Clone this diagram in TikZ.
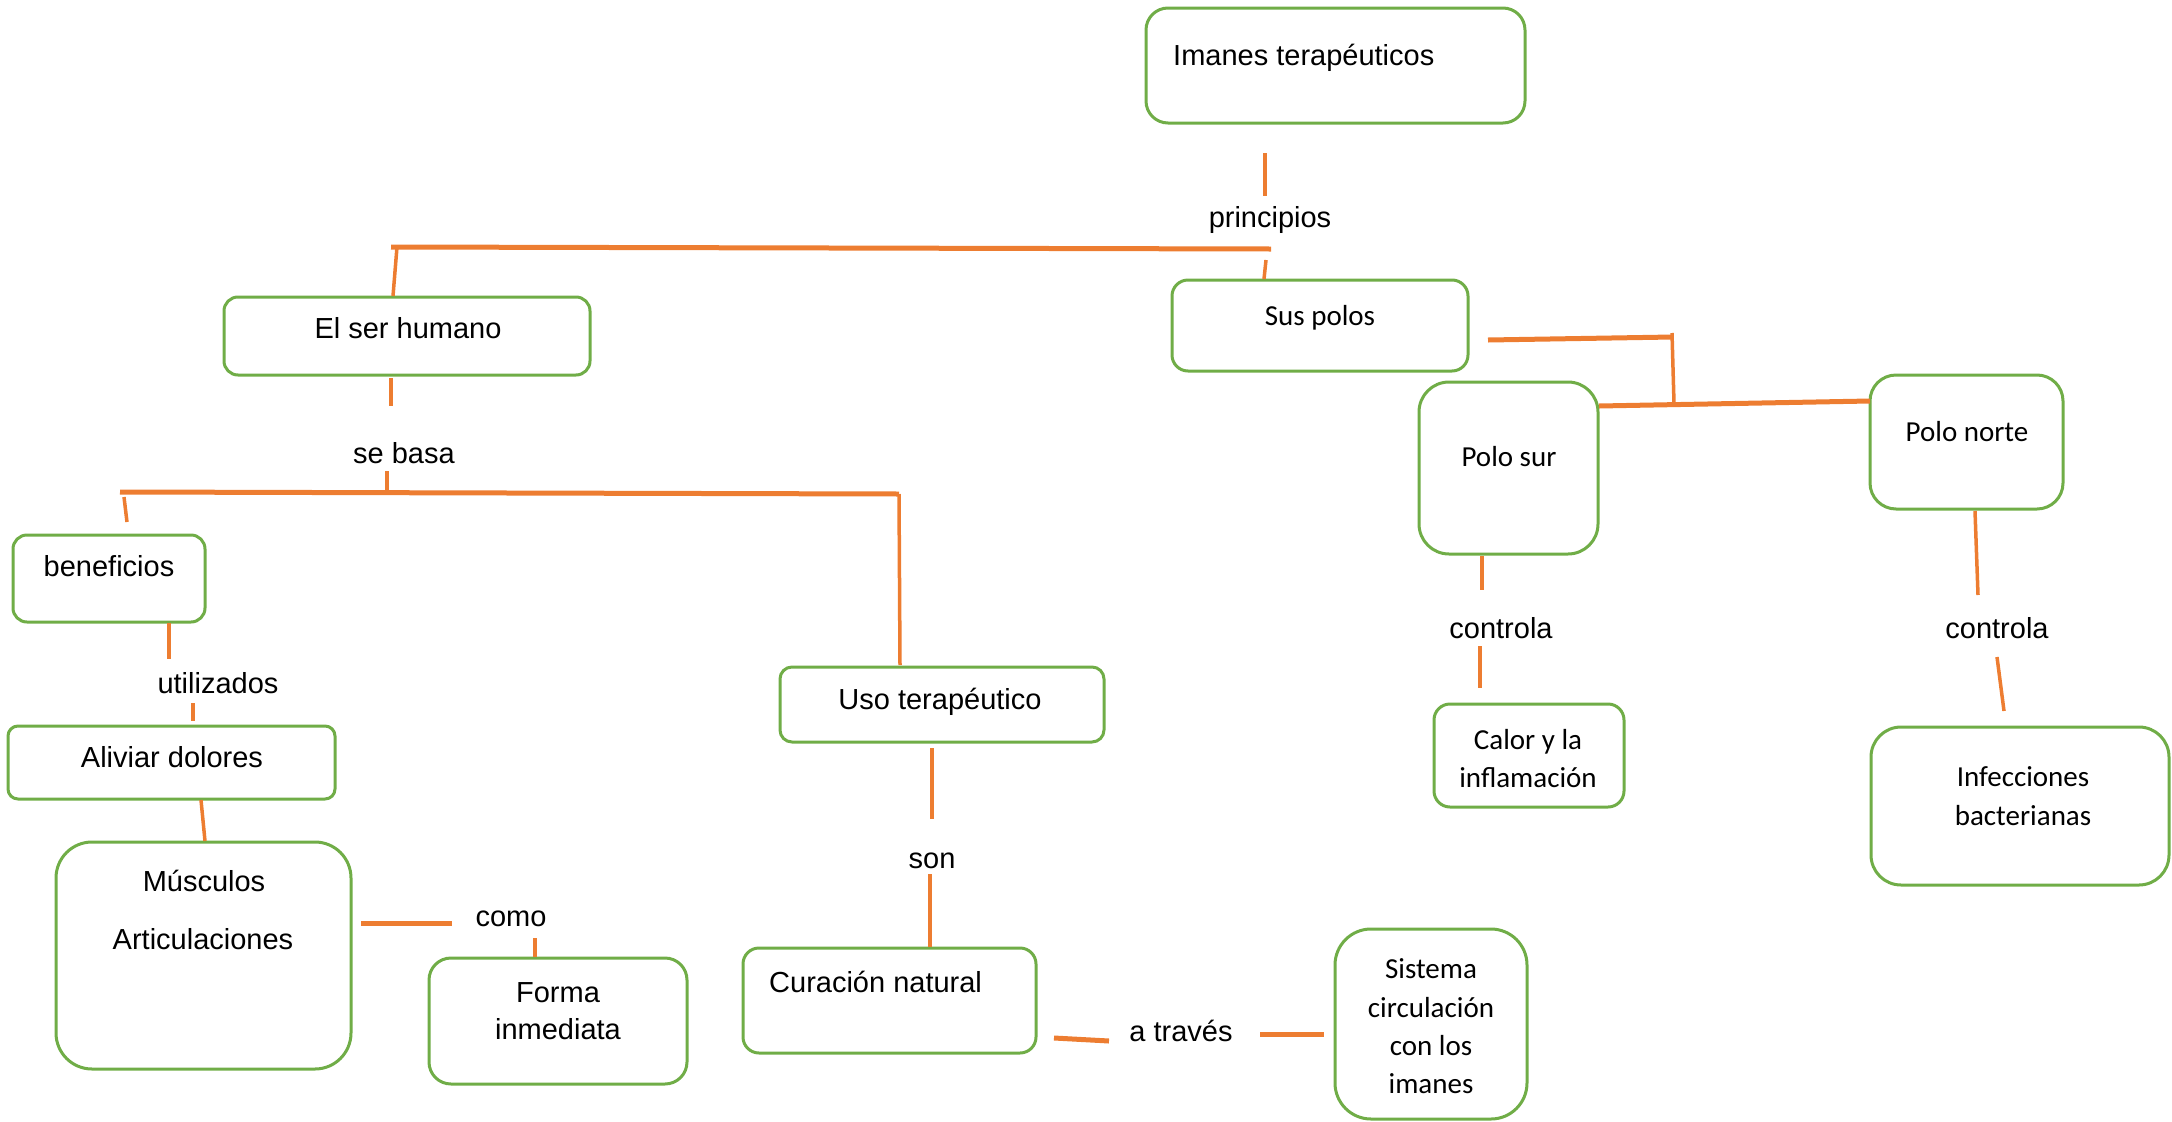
\documentclass[tikz,border=0pt]{standalone}
\usepackage{fontspec}
\setmainfont{Liberation Sans}
\newfontfamily\calib{Carlito}
\definecolor{boxgreen}{HTML}{70AD47}
\definecolor{lineorange}{HTML}{ED7D31}
\tikzset{
  box/.style={draw=boxgreen, line width=3pt, inner sep=0pt, fill=white},
  txt/.style={anchor=base, inner sep=0pt, font=\fontsize{29}{37}\selectfont},
  ctxt/.style={anchor=base, inner sep=0pt, font=\calib\fontsize{29}{37}\selectfont},
  conn/.style={draw=lineorange, line width=3.5pt},
  thick conn/.style={draw=lineorange, line width=5pt},
}
\begin{document}
\begin{tikzpicture}[x=1pt, y=-1pt]
\useasboundingbox (0,0) rectangle (2172,1122);
% boxes
\node[box, rounded corners=22pt, minimum width=379pt, minimum height=115pt] (imanes) at (1335.5,65.5) {};
\node[box, rounded corners=14pt, minimum width=366pt, minimum height=78pt] (ser) at (407,336) {};
\node[box, rounded corners=16pt, minimum width=296pt, minimum height=91pt] (polos) at (1320,325.5) {};
\node[box, rounded corners=14pt, minimum width=192pt, minimum height=87pt] (bene) at (109,578.5) {};
\node[box, rounded corners=10pt, minimum width=327pt, minimum height=73pt] (aliviar) at (171.5,762.5) {};
\node[box, rounded corners=36pt, minimum width=295pt, minimum height=227pt] (musc) at (203.5,955.5) {};
\node[box, rounded corners=22pt, minimum width=258pt, minimum height=126pt] (forma) at (558,1021) {};
\node[box, rounded corners=12pt, minimum width=324pt, minimum height=75pt] (uso) at (942,704.5) {};
\node[box, rounded corners=16pt, minimum width=293pt, minimum height=105pt] (cura) at (889.5,1000.5) {};
\node[box, rounded corners=36pt, minimum width=192pt, minimum height=190pt] (sist) at (1431,1024) {};
\node[box, rounded corners=30pt, minimum width=179pt, minimum height=172pt] (polosur) at (1508.5,468) {};
\node[box, rounded corners=26pt, minimum width=193pt, minimum height=134pt] (polonorte) at (1966.5,442) {};
\node[box, rounded corners=16pt, minimum width=190pt, minimum height=103pt] (calor) at (1529,755.5) {};
\node[box, rounded corners=30pt, minimum width=298pt, minimum height=158pt] (infec) at (2020,806) {};
% texts
\node[txt, anchor=base west] (timanes) at (1173,65) {Imanes terapéuticos};
\node[txt] (principios) at (1270,227) {principios};
\node[txt] (tser) at (408,338) {El ser humano};
\node[txt] (sebasa) at (404,463) {se basa};
\node[ctxt] (tpolos) at (1320,325) {Sus polos};
\node[txt] (tbene) at (109,576) {beneficios};
\node[txt] (utilizados) at (218,693) {utilizados};
\node[txt] (taliviar) at (172,767) {Aliviar dolores};
\node[txt] (tmusc1) at (204,891) {Músculos};
\node[txt] (tmusc2) at (203,949) {Articulaciones};
\node[txt] (como) at (511,926) {como};
\node[txt] (tforma1) at (558,1002) {Forma};
\node[txt] (tforma2) at (558,1039) {inmediata};
\node[txt] (tuso) at (940,709) {Uso terapéutico};
\node[txt] (son) at (932,868) {son};
\node[txt, anchor=base west] (tcura) at (769,992) {Curación natural};
\node[txt] (atraves) at (1181,1041) {a través};
\node[ctxt] (tsist1) at (1431,978) {Sistema};
\node[ctxt] (tsist2) at (1431,1017) {circulación};
\node[ctxt] (tsist3) at (1431,1055) {con los};
\node[ctxt] (tsist4) at (1431,1093) {imanes};
\node[ctxt] (tpolosur) at (1509,466) {Polo sur};
\node[ctxt] (tpolonorte) at (1967,441) {Polo norte};
\node[txt] (controla1) at (1501,638) {controla};
\node[txt] (controla2) at (1997,638) {controla};
\node[ctxt] (tcalor1) at (1528,749) {Calor y la};
\node[ctxt] (tcalor2) at (1528,787) {inflamación};
\node[ctxt] (tinfec1) at (2023,786) {Infecciones};
\node[ctxt] (tinfec2) at (2023,825) {bacterianas};
% connector end points
\coordinate (a1) at (1265,153); \coordinate (a2) at (1265,196);
\coordinate (b1) at (391,247); \coordinate (b2) at (1271,249);
\coordinate (b3) at (397,247); \coordinate (b4) at (393,296);
\coordinate (b5) at (1266,260); \coordinate (b6) at (1264,279);
\coordinate (c1) at (391,378); \coordinate (c2) at (391,406);
\coordinate (d1) at (387,471); \coordinate (d2) at (387,492);
\coordinate (d3) at (120,492); \coordinate (d4) at (899,494);
\coordinate (d5) at (899,494); \coordinate (d6) at (900,665);
\coordinate (d7) at (124,497); \coordinate (d8) at (127,522);
\coordinate (e1) at (169,623); \coordinate (e2) at (169,659);
\coordinate (f1) at (193,703); \coordinate (f2) at (193,721);
\coordinate (g1) at (201,800); \coordinate (g2) at (205,841);
\coordinate (h1) at (361,923); \coordinate (h2) at (452,923);
\coordinate (i1) at (535,938); \coordinate (i2) at (535,957);
\coordinate (j1) at (932,748); \coordinate (j2) at (932,819);
\coordinate (j3) at (930,874); \coordinate (j4) at (930,947);
\coordinate (k1) at (1054,1038); \coordinate (k2) at (1109,1041);
\coordinate (k3) at (1260,1034); \coordinate (k4) at (1324,1034);
\coordinate (l1) at (1488,340); \coordinate (l2) at (1673,337);
\coordinate (l3) at (1672,333); \coordinate (l4) at (1674,403);
\coordinate (l5) at (1599,406); \coordinate (l6) at (1870,401);
\coordinate (m1) at (1482,556); \coordinate (m2) at (1482,590);
\coordinate (m3) at (1480,646); \coordinate (m4) at (1480,688);
\coordinate (n1) at (1975,511); \coordinate (n2) at (1978,595);
\coordinate (n3) at (1997,657); \coordinate (n4) at (2004,711);
% connectors
\draw[conn] (a1) -- (a2);
\draw[thick conn] (b1) -- (b2);
\draw[conn] (b3) -- (b4);
\draw[conn] (b5) -- (b6);
\draw[conn] (c1) -- (c2);
\draw[conn] (d1) -- (d2);
\draw[thick conn] (d3) -- (d4);
\draw[conn] (d5) -- (d6);
\draw[conn] (d7) -- (d8);
\draw[conn] (e1) -- (e2);
\draw[conn] (f1) -- (f2);
\draw[conn] (g1) -- (g2);
\draw[thick conn] (h1) -- (h2);
\draw[conn] (i1) -- (i2);
\draw[conn] (j1) -- (j2);
\draw[conn] (j3) -- (j4);
\draw[thick conn] (k1) -- (k2);
\draw[thick conn] (k3) -- (k4);
\draw[thick conn] (l1) -- (l2);
\draw[conn] (l3) -- (l4);
\draw[thick conn] (l5) -- (l6);
\draw[conn] (m1) -- (m2);
\draw[conn] (m3) -- (m4);
\draw[conn] (n1) -- (n2);
\draw[conn] (n3) -- (n4);
\end{tikzpicture}
\end{document}
